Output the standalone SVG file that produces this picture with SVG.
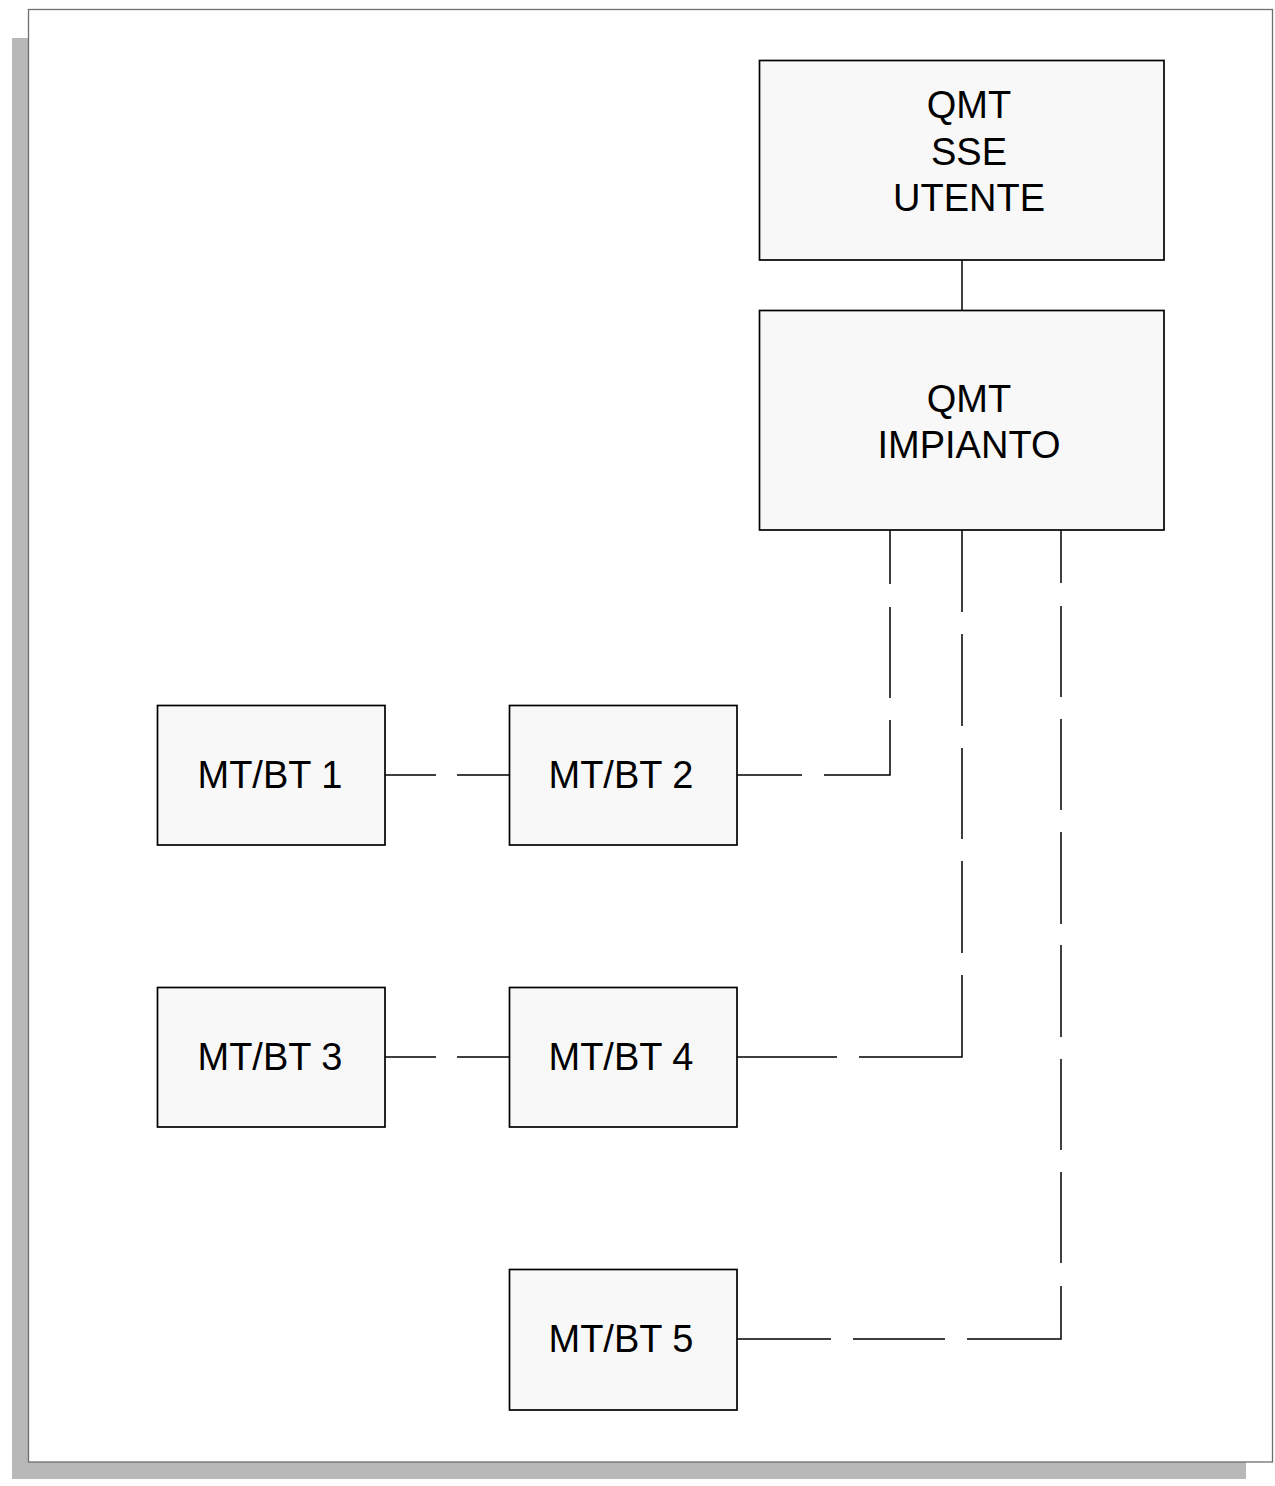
<svg xmlns="http://www.w3.org/2000/svg" width="1275" height="1486" viewBox="0 0 1275 1486">
<style>
.box{fill:#f8f8f8;stroke:#000;stroke-width:1.7}
.lbl{font-family:"Liberation Sans",Arial,sans-serif;font-size:38px;fill:#000;text-anchor:middle}
.con{fill:none;stroke:#000;stroke-width:1.5;stroke-linejoin:miter}
</style>
<rect x="0" y="0" width="1275" height="1486" fill="#ffffff"/>
<g id="page">
<rect x="12" y="38" width="1234" height="1441" fill="#b8b8b8"/>
<rect x="28.5" y="9.5" width="1244" height="1452.5" fill="#ffffff" stroke="#6e6e6e" stroke-width="1.3"/>
</g>
<g id="connectors">
<path class="con" d="M962 260V310"/>
<path class="con" d="M385 775H436M457 775H509"/>
<path class="con" d="M385 1057H436M457 1057H509"/>
<path class="con" d="M737 775H802M824 775H890V720M890 698V607M890 584V530"/>
<path class="con" d="M737 1057H837M859 1057H962V975M962 953V861M962 839V748M962 726V634M962 612V530"/>
<path class="con" d="M737 1339H831M853 1339H945M967 1339H1061V1286M1061 1263V1172M1061 1150V1059M1061 1037V945M1061 924V832M1061 810V719M1061 697V606M1061 583V530"/>
</g>
<g id="qmt-sse">
<rect class="box" x="759.5" y="60.5" width="404.5" height="199.5"/>
<text class="lbl" x="969" y="118">QMT</text>
<text class="lbl" x="969" y="164.5">SSE</text>
<text class="lbl" x="969" y="211">UTENTE</text>
</g>
<g id="qmt-impianto">
<rect class="box" x="759.5" y="310.5" width="404.5" height="219.5"/>
<text class="lbl" x="969" y="411.5">QMT</text>
<text class="lbl" x="969" y="457.5">IMPIANTO</text>
</g>
<g id="mtbt1">
<rect class="box" x="157.5" y="705.5" width="227.5" height="139.5"/>
<text class="lbl" x="270" y="788">MT/BT 1</text>
</g>
<g id="mtbt2">
<rect class="box" x="509.5" y="705.5" width="227.5" height="139.5"/>
<text class="lbl" x="621" y="788">MT/BT 2</text>
</g>
<g id="mtbt3">
<rect class="box" x="157.5" y="987.5" width="227.5" height="139.5"/>
<text class="lbl" x="270" y="1070">MT/BT 3</text>
</g>
<g id="mtbt4">
<rect class="box" x="509.5" y="987.5" width="227.5" height="139.5"/>
<text class="lbl" x="621" y="1070">MT/BT 4</text>
</g>
<g id="mtbt5">
<rect class="box" x="509.5" y="1269.5" width="227.5" height="140.5"/>
<text class="lbl" x="621" y="1352">MT/BT 5</text>
</g>
</svg>
